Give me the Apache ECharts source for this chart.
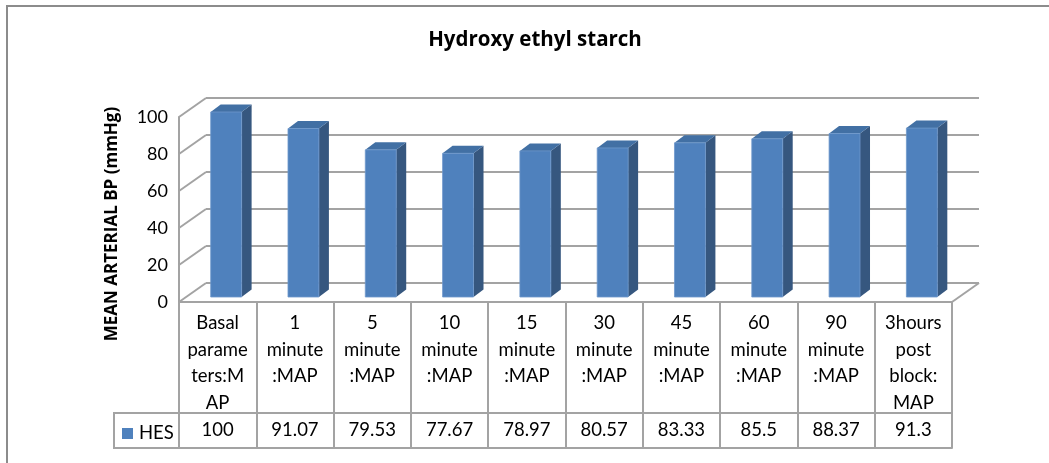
<!DOCTYPE html>
<html>
<head>
<meta charset="utf-8">
<script src="https://cdn.jsdelivr.net/npm/echarts@6/dist/echarts.min.js"></script>
<style>html,body{margin:0;padding:0;background:#fff;}#c{width:1049px;height:463px;}</style>
</head>
<body>
<div id="c"></div>
<script>
const chartTitle = "Hydroxy ethyl starch";
const yAxisTitle = "MEAN ARTERIAL BP (mmHg)";
const seriesName = "HES";
const categories = ["Basal\nparame\nters:M\nAP", "1\nminute\n:MAP", "5\nminute\n:MAP", "10\nminute\n:MAP", "15\nminute\n:MAP", "30\nminute\n:MAP", "45\nminute\n:MAP", "60\nminute\n:MAP", "90\nminute\n:MAP", "3hours\npost\nblock:\nMAP"];
const hesValues = [100, 91.07, 79.53, 77.67, 78.97, 80.57, 83.33, 85.5, 88.37, 91.3];
const yTicks = [0, 20, 40, 60, 80, 100];

const FONT = 'Lato';
const BOLD_FONT = 'Open Sans';
const GRID_COLOR = '#A3A3A3';
const FRONT_C = '#4F81BD', SIDE_C = '#36577F', TOP_C = '#4270A4';
const FRONT = {left: 179, top: 117, width: 773, height: 185};
const DX = 27, DY = -19;

const chart = echarts.init(document.getElementById('c'), null, {renderer: 'canvas'});

const option = {
  animation: false,
  backgroundColor: '#fff',
  textStyle: {fontFamily: FONT, color: '#000'},
  title: {
    text: chartTitle, left: 535, top: 30, textAlign: 'center', padding: 0,
    textStyle: {fontFamily: BOLD_FONT, fontSize: 20.5, fontWeight: 'bold', color: '#000'}
  },
  legend: {
    data: [seriesName], left: 122, top: 424, padding: 0, icon: 'rect',
    itemWidth: 11, itemHeight: 11, itemGap: 6, selectedMode: false,
    textStyle: {fontFamily: FONT, fontSize: 18.5, color: '#000', padding: [0, 0, 0, 1]}
  },
  grid: [
    {left: FRONT.left, top: FRONT.top, width: FRONT.width, height: FRONT.height},
    {left: FRONT.left + DX, top: FRONT.top + DY, width: FRONT.width, height: FRONT.height}
  ],
  xAxis: [
    {
      type: 'category', gridIndex: 0, data: categories, position: 'bottom',
      axisLine: {show: true, lineStyle: {color: GRID_COLOR, width: 2}},
      axisTick: {show: true, interval: 0, length: 146, lineStyle: {color: GRID_COLOR, width: 2}},
      axisLabel: {interval: 0, margin: 8, fontSize: 18.5, lineHeight: 26.5, color: '#000', fontFamily: FONT, align: 'center'},
      splitLine: {show: false}
    },
    {
      type: 'category', gridIndex: 0, data: hesValues.map(String), position: 'bottom', offset: 111,
      axisLine: {show: true, lineStyle: {color: GRID_COLOR, width: 2}},
      axisTick: {show: false},
      axisLabel: {interval: 0, margin: 5, fontSize: 18.5, lineHeight: 24, color: '#000', fontFamily: FONT},
      splitLine: {show: false}
    },
    {
      type: 'category', gridIndex: 0, data: categories, position: 'bottom', offset: 146,
      axisLine: {show: true, lineStyle: {color: GRID_COLOR, width: 2}},
      axisTick: {show: false}, axisLabel: {show: false}, splitLine: {show: false}
    },
    {
      type: 'category', gridIndex: 1, data: categories, show: false
    }
  ],
  yAxis: [
    {
      type: 'value', gridIndex: 0, min: 0, max: 100, interval: 20,
      axisLine: {show: true, lineStyle: {color: GRID_COLOR, width: 2}},
      axisTick: {show: false},
      axisLabel: {margin: 11, fontSize: 18, color: '#000', fontFamily: FONT, padding: [6, 0, 0, 0]},
      splitLine: {show: false}
    },
    {
      type: 'value', gridIndex: 1, min: 0, max: 100, interval: 20,
      axisLine: {show: false}, axisTick: {show: false}, axisLabel: {show: false},
      splitLine: {show: true, lineStyle: {color: GRID_COLOR, width: 2}}
    }
  ],
  series: [
    {
      type: 'custom', name: 'walls', xAxisIndex: 0, yAxisIndex: 0, z: 1, silent: true,
      data: yTicks.map(v => [0, v]),
      encode: {x: 0, y: 1},
      renderItem: function (params, api) {
        const cs = params.coordSys;
        const y = api.coord([0, api.value(1)])[1];
        const children = [{
          type: 'line', shape: {x1: cs.x, y1: y, x2: cs.x + DX, y2: y + DY},
          style: {stroke: GRID_COLOR, lineWidth: 2}
        }];
        if (api.value(1) === 0) {
          children.push({
            type: 'line', shape: {x1: cs.x + cs.width, y1: y, x2: cs.x + cs.width + DX, y2: y + DY},
            style: {stroke: GRID_COLOR, lineWidth: 2}
          });
        }
        return {type: 'group', children: children};
      }
    },
    {
      type: 'custom', name: seriesName, xAxisIndex: 0, yAxisIndex: 0, z: 5,
      itemStyle: {color: FRONT_C},
      data: hesValues.map((v, i) => [i, v]),
      encode: {x: 0, y: 1},
      renderItem: function (params, api) {
        const i = api.value(0), v = api.value(1);
        const base = api.coord([i, 0]);
        const tp = api.coord([i, v]);
        const band = api.size([1, 0])[0];
        const w = band * 0.40;
        const left = base[0] - band * 0.09;
        const yb = base[1] - 5, yt = tp[1] - 5;
        const dx = 10, dy = -7.5;
        return {
          type: 'group', children: [
            {type: 'polygon', shape: {points: [[left + w, yt], [left + w + dx, yt + dy], [left + w + dx, yb + dy], [left + w, yb]]}, style: {fill: SIDE_C}},
            {type: 'polygon', shape: {points: [[left, yt], [left + dx, yt + dy], [left + w + dx, yt + dy], [left + w, yt]]}, style: {fill: TOP_C}},
            {type: 'rect', shape: {x: left, y: yt, width: w, height: yb - yt}, style: {fill: FRONT_C, stroke: '#6F98CB', lineWidth: 0.8}}
          ]
        };
      }
    }
  ],
  graphic: [
    {type: 'rect', shape: {x: 7, y: 6, width: 1200, height: 600}, style: {fill: null, stroke: '#8C8C8C', lineWidth: 2}, silent: true, z: 0},
    {type: 'rect', shape: {x: 114, y: 413, width: 65, height: 35}, style: {fill: null, stroke: GRID_COLOR, lineWidth: 2}, silent: true},
    {type: 'text', x: 112, y: 224, rotation: Math.PI / 2, silent: true,
      style: {text: yAxisTitle, fontFamily: BOLD_FONT, fontSize: 17, fontWeight: 'bold', fill: '#000', align: 'center', verticalAlign: 'middle'}}
  ]
};
chart.setOption(option);
</script>
</body>
</html>
